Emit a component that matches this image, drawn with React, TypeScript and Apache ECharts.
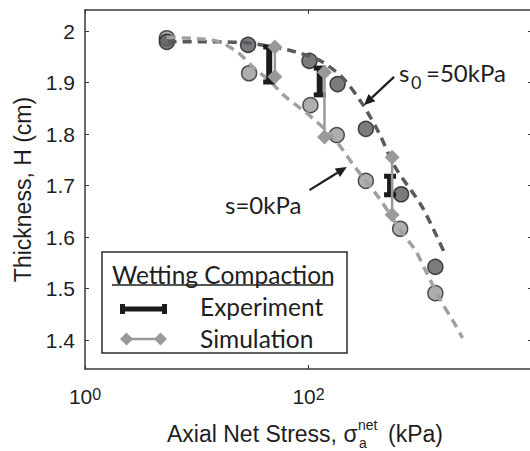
import React, { useEffect, useRef } from "react";
import * as echarts from "echarts";

// ---- data ----
const darkPoints: [number, number][] = [
  [5.4, 1.979], [28.8, 1.973], [102, 1.942], [182, 1.897], [326, 1.81], [674, 1.683], [1365, 1.542],
];
const lightPoints: [number, number][] = [
  [5.4, 1.986], [29.4, 1.918], [104, 1.856], [179, 1.798], [326, 1.709], [661, 1.616], [1365, 1.491],
];
const darkCurve: [number, number][] = [
  [5.5, 1.979], [15.5, 1.979], [30.6, 1.976], [66, 1.963], [123, 1.944], [198, 1.911],
  [300, 1.86], [427, 1.802], [595, 1.736], [1042, 1.658], [1680, 1.565],
];
const lightCurve: [number, number][] = [
  [5.4, 1.988], [10, 1.985], [15.5, 1.98], [23.4, 1.958], [33, 1.927], [45, 1.903], [61, 1.874],
  [106, 1.833], [171, 1.79], [260, 1.736], [430, 1.675], [690, 1.608], [900, 1.575],
  [1110, 1.536], [1510, 1.478], [1940, 1.439], [2390, 1.404],
];
// [x, yLow, yHigh]
const experimentBars: [number, number, number][] = [
  [44.5, 1.901, 1.969], [126, 1.876, 1.928], [537, 1.682, 1.718],
];
const simulationBars: [number, number, number][] = [
  [50, 1.911, 1.969], [139, 1.794, 1.92], [560, 1.643, 1.755],
];
const yTicks = [1.4, 1.5, 1.6, 1.7, 1.8, 1.9, 2.0];
const xMin = 1;
const xMax = 10000;
const yMin = 1.3437;
const yMax = 2.0408;

// annotation arrows in data coordinates: [tail, head]
const arrow50: [number, number][] = [[583, 1.911], [313, 1.856]];
const arrow0: [number, number][] = [[102, 1.691], [220, 1.736]];

const SANS = "Liberation Sans, Arial, sans-serif";
const CAL = "Lato, sans-serif";
const INK = "#1e1e1e";
const AXIS = "#3a3a3a";
const CHART_W = 570; // wider than the 530 view; the right frame edge falls just outside the view

function arrowGraphic(p0: number[], p1: number[]) {
  const dx = p1[0] - p0[0];
  const dy = p1[1] - p0[1];
  const len = Math.sqrt(dx * dx + dy * dy);
  const ux = dx / len, uy = dy / len;
  const hl = 11, hw = 5;
  const bx = p1[0] - ux * hl, by = p1[1] - uy * hl;
  return [
    { type: "line", shape: { x1: p0[0], y1: p0[1], x2: bx, y2: by }, style: { stroke: INK, lineWidth: 2.2 }, z: 100 },
    {
      type: "polygon",
      shape: { points: [[p1[0], p1[1]], [bx - uy * hw, by + ux * hw], [bx + uy * hw, by - ux * hw]] },
      style: { fill: INK },
      z: 100,
    },
  ];
}

export default function App() {
  const ref = useRef<HTMLDivElement>(null);
  useEffect(() => {
    if (!ref.current) return;
    const chart = echarts.init(ref.current, null, { renderer: "svg" });
    const axisLineStyle = { color: AXIS, width: 1.5 };
    const option: any = {
      animation: false,
      backgroundColor: "#ffffff",
      grid: { left: 85, top: 10, right: CHART_W - 532, bottom: 82, outerBoundsMode: "none", containLabel: false },
      xAxis: [
        {
          type: "log",
          logBase: 10,
          min: xMin,
          max: xMax,
          interval: 2,
          position: "bottom",
          axisLine: { lineStyle: axisLineStyle },
          axisTick: { inside: true, length: 4, lineStyle: { color: AXIS } },
          splitLine: { show: false },
          minorTick: { show: false },
          axisLabel: {
            margin: 17,
            color: INK,
            fontFamily: SANS,
            formatter: (v: number) => {
              const e = Math.round(Math.log10(v));
              if (e > 3) return "";
              return "{b|10}{s|" + e + "}";
            },
            rich: {
              b: { fontSize: 21, lineHeight: 21, verticalAlign: "bottom", fontFamily: SANS, color: INK },
              s: { fontSize: 16, lineHeight: 16, verticalAlign: "top", padding: [0, 0, 20, 0], fontFamily: SANS, color: INK },
            },
          },
        },
        {
          type: "log",
          logBase: 10,
          min: xMin,
          max: xMax,
          interval: 2,
          position: "top",
          axisLine: { lineStyle: axisLineStyle },
          axisTick: { inside: true, length: 4, lineStyle: { color: AXIS } },
          axisLabel: { show: false },
          splitLine: { show: false },
        },
      ],
      yAxis: [
        {
          type: "value",
          min: yMin,
          max: yMax,
          position: "left",
          axisLine: { show: true, lineStyle: axisLineStyle },
          axisTick: { show: true, inside: true, length: 4, customValues: yTicks, lineStyle: { color: AXIS } },
          splitLine: { show: false },
          axisLabel: {
            customValues: yTicks,
            margin: 10,
            fontSize: 21,
            fontFamily: SANS,
            color: INK,
            formatter: (v: number) => String(parseFloat(Number(v).toFixed(1))),
          },
          name: "Thickness, H (cm)",
          nameLocation: "middle",
          nameGap: 50,
          nameTextStyle: { fontSize: 23, fontFamily: SANS, color: INK },
        },
        {
          type: "value",
          min: yMin,
          max: yMax,
          position: "right",
          axisLine: { show: true, lineStyle: axisLineStyle },
          axisTick: { show: true, inside: true, length: 4, customValues: yTicks, lineStyle: { color: AXIS } },
          axisLabel: { show: false },
          splitLine: { show: false },
        },
      ],
      series: [
        {
          type: "scatter",
          data: lightPoints,
          symbol: "circle",
          symbolSize: 15,
          itemStyle: { color: "#9a9a9a", borderColor: "#2a2a2a", borderWidth: 1.5 },
          z: 2,
        },
        {
          type: "scatter",
          data: darkPoints,
          symbol: "circle",
          symbolSize: 15,
          itemStyle: { color: "#5a5a5a", borderColor: "#1e1e2e", borderWidth: 1.5 },
          z: 2,
        },
        {
          type: "line",
          data: darkCurve,
          smooth: 0.3,
          showSymbol: false,
          symbol: "none",
          lineStyle: { color: "#5a5a5a", width: 3.5, type: [9, 6] },
          z: 3,
        },
        {
          type: "line",
          data: lightCurve,
          smooth: 0.3,
          showSymbol: false,
          symbol: "none",
          lineStyle: { color: "#a0a0a0", width: 3.5, type: [9, 6] },
          z: 3,
        },
        {
          type: "custom",
          data: experimentBars,
          encode: { x: 0, y: [1, 2] },
          z: 4,
          renderItem: (params: any, api: any) => {
            const x = api.value(0);
            const a = api.coord([x, api.value(1)]);
            const b = api.coord([x, api.value(2)]);
            const c = "#1c1c1c";
            return {
              type: "group",
              children: [
                { type: "rect", shape: { x: a[0] - 3, y: b[1], width: 6, height: a[1] - b[1] }, style: { fill: c } },
                { type: "rect", shape: { x: a[0] - 6, y: a[1] - 2.5, width: 12, height: 5 }, style: { fill: c } },
                { type: "rect", shape: { x: a[0] - 6, y: b[1] - 2.5, width: 12, height: 5 }, style: { fill: c } },
              ],
            };
          },
        },
        {
          type: "custom",
          data: simulationBars,
          encode: { x: 0, y: [1, 2] },
          z: 5,
          renderItem: (params: any, api: any) => {
            const x = api.value(0);
            const a = api.coord([x, api.value(1)]);
            const b = api.coord([x, api.value(2)]);
            const c = "#999999";
            const d = 7.5;
            const dia = (p: number[]) => ({
              type: "polygon",
              shape: { points: [[p[0], p[1] - d], [p[0] + d, p[1]], [p[0], p[1] + d], [p[0] - d, p[1]]] },
              style: { fill: c },
            });
            return {
              type: "group",
              children: [
                { type: "line", shape: { x1: a[0], y1: a[1], x2: b[0], y2: b[1] }, style: { stroke: c, lineWidth: 2.5 } },
                dia(a),
                dia(b),
              ],
            };
          },
        },
      ],
    };
    chart.setOption(option);

    const px = (p: number[]) => chart.convertToPixel({ gridIndex: 0 }, p) as number[];
    const a50 = arrow50.map(px);
    const a0 = arrow0.map(px);

    const graphic: any[] = [
      ...arrowGraphic(a50[0], a50[1]),
      ...arrowGraphic(a0[0], a0[1]),
      // s0 = 50kPa label
      { type: "text", x: 399, y: 72, style: { text: "s", font: "24px " + CAL, fill: INK, verticalAlign: "middle", align: "left" }, z: 100 },
      { type: "text", x: 411, y: 82, style: { text: "0", font: "18px " + CAL, fill: INK, verticalAlign: "middle", align: "left" }, z: 100 },
      { type: "text", x: 426, y: 72, style: { text: "=50kPa", font: "24px " + CAL, fill: INK, verticalAlign: "middle", align: "left" }, z: 100 },
      // s = 0kPa label
      { type: "text", x: 225, y: 204, style: { text: "s=0kPa", font: "24px " + CAL, fill: INK, verticalAlign: "middle", align: "left" }, z: 100 },
      // legend box
      { type: "rect", shape: { x: 102, y: 252, width: 245, height: 101 }, style: { fill: "#ffffff", stroke: "#2a2a2a", lineWidth: 1.5 }, z: 90 },
      { type: "text", x: 112, y: 274, style: { text: "Wetting Compaction", font: "24.5px " + CAL, fill: INK, verticalAlign: "middle", align: "left" }, z: 100 },
      { type: "line", shape: { x1: 112, y1: 285, x2: 333, y2: 285 }, style: { stroke: INK, lineWidth: 1.5 }, z: 100 },
      // experiment marker
      { type: "rect", shape: { x: 121, y: 306.5, width: 45, height: 5 }, style: { fill: "#1c1c1c" }, z: 100 },
      { type: "rect", shape: { x: 120, y: 304, width: 5, height: 10 }, style: { fill: "#1c1c1c" }, z: 100 },
      { type: "rect", shape: { x: 162, y: 304, width: 5, height: 10 }, style: { fill: "#1c1c1c" }, z: 100 },
      { type: "text", x: 200, y: 306, style: { text: "Experiment", font: "24.5px " + CAL, fill: INK, verticalAlign: "middle", align: "left" }, z: 100 },
      // simulation marker
      { type: "line", shape: { x1: 126, y1: 339, x2: 162, y2: 339 }, style: { stroke: "#999999", lineWidth: 2.5 }, z: 100 },
      { type: "polygon", shape: { points: [[120, 339], [126.5, 332.5], [133, 339], [126.5, 345.5]] }, style: { fill: "#999999" }, z: 100 },
      { type: "polygon", shape: { points: [[154, 339], [160.5, 332.5], [167, 339], [160.5, 345.5]] }, style: { fill: "#999999" }, z: 100 },
      { type: "text", x: 200, y: 338, style: { text: "Simulation", font: "24.5px " + CAL, fill: INK, verticalAlign: "middle", align: "left" }, z: 100 },
      // x-axis title with stacked sub/superscript
      { type: "text", x: 167, y: 434, style: { text: "Axial Net Stress, \u03c3", font: "23px " + SANS, fill: INK, verticalAlign: "middle", align: "left" }, z: 100 },
      { type: "text", x: 358, y: 425, style: { text: "net", font: "14px " + SANS, fill: INK, verticalAlign: "middle", align: "left" }, z: 100 },
      { type: "text", x: 359, y: 443, style: { text: "a", font: "14px " + SANS, fill: INK, verticalAlign: "middle", align: "left" }, z: 100 },
      { type: "text", x: 388, y: 434, style: { text: "(kPa)", font: "23px " + SANS, fill: INK, verticalAlign: "middle", align: "left" }, z: 100 },
    ];
    chart.setOption({ graphic });

    return () => chart.dispose();
  }, []);
  return (
    <div style={{ position: "absolute", left: 0, top: 0, width: 530, height: 451, overflow: "hidden", background: "#fff" }}>
      <div ref={ref} style={{ width: CHART_W, height: 451 }} />
    </div>
  );
}
